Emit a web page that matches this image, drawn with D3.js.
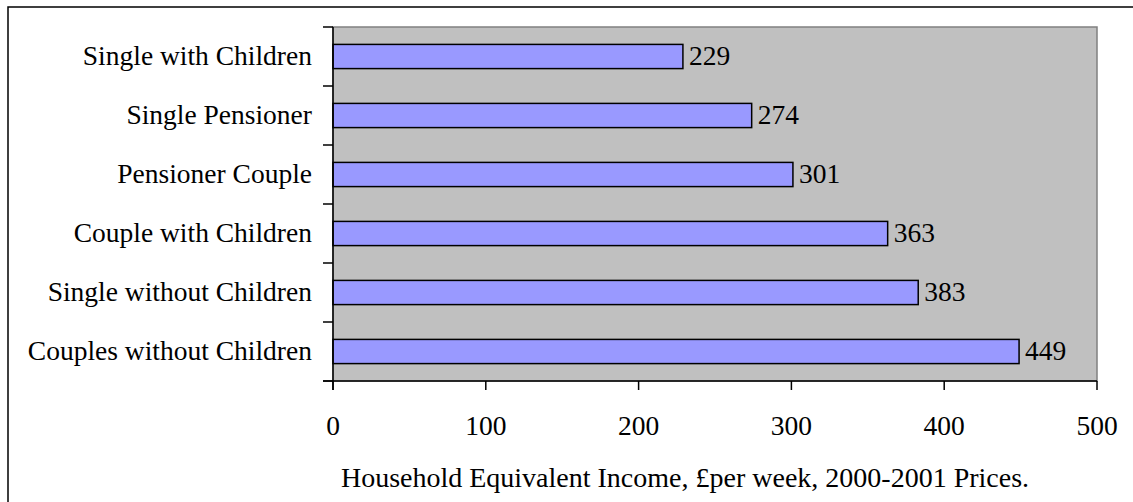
<!DOCTYPE html>
<html>
<head>
<meta charset="utf-8">
<script src="https://cdn.jsdelivr.net/npm/d3@7"></script>
<style>
html,body{margin:0;padding:0;background:#fff;}
svg text{font-family:"Liberation Serif","Times New Roman",serif;fill:#000;}
</style>
</head>
<body>
<svg id="chart" width="1133" height="502"></svg>
<script>
const categories = ["Single with Children","Single Pensioner","Pensioner Couple","Couple with Children","Single without Children","Couples without Children"];
const values = [229, 274, 301, 363, 383, 449];
const xTicks = [0, 100, 200, 300, 400, 500];
const xTitle = "Household Equivalent Income, £per week, 2000-2001 Prices.";

const svg = d3.select("#chart");
const W = 1133, H = 502;
const plot = {left: 333, top: 27, right: 1097, bottom: 381};
const fs = 27.5;

// outer border
svg.append("rect").attr("x", 8).attr("y", 7).attr("width", W + 10).attr("height", H + 10)
  .attr("fill", "#fff").attr("stroke", "#000").attr("stroke-width", 1.5);

const x = d3.scaleLinear().domain([0, 500]).range([plot.left, plot.right]);
const y = d3.scaleBand().domain(categories).range([plot.top, plot.bottom]).paddingInner(0.59).paddingOuter(0.295);

svg.append("rect").attr("x", plot.left).attr("y", plot.top)
  .attr("width", plot.right - plot.left).attr("height", plot.bottom - plot.top)
  .attr("fill", "#C0C0C0").attr("stroke", "#808080").attr("stroke-width", 1.5);

// bars
svg.selectAll("rect.bar").data(values).enter().append("rect").attr("class", "bar")
  .attr("x", x(0)).attr("y", (d, i) => y(categories[i]))
  .attr("width", d => x(d) - x(0)).attr("height", y.bandwidth())
  .attr("fill", "#9999FF").attr("stroke", "#000").attr("stroke-width", 1.5);

// value labels
svg.selectAll("text.val").data(values).enter().append("text").attr("class", "val")
  .attr("x", d => x(d) + 6).attr("y", (d, i) => y(categories[i]) + y.bandwidth() / 2)
  .attr("dy", "0.32em").attr("font-size", fs).text(d => d);

// y axis line and ticks
const band = (plot.bottom - plot.top) / categories.length;
const yTickPos = d3.range(categories.length + 1).map(i => plot.top + i * band);
svg.append("line").attr("x1", plot.left).attr("x2", plot.left).attr("y1", plot.top).attr("y2", plot.bottom + 9)
  .attr("stroke", "#000").attr("stroke-width", 1.5);
svg.selectAll("line.yt").data(yTickPos).enter().append("line").attr("class", "yt")
  .attr("x1", plot.left - 10).attr("x2", plot.left).attr("y1", d => d).attr("y2", d => d)
  .attr("stroke", "#000").attr("stroke-width", 1.5);
svg.selectAll("text.cat").data(categories).enter().append("text").attr("class", "cat")
  .attr("x", 312).attr("y", d => y(d) + y.bandwidth() / 2).attr("dy", "0.32em")
  .attr("text-anchor", "end").attr("font-size", fs).text(d => d);

// x axis
svg.append("line").attr("x1", plot.left - 10).attr("x2", plot.right).attr("y1", plot.bottom).attr("y2", plot.bottom)
  .attr("stroke", "#000").attr("stroke-width", 1.5);
svg.selectAll("line.xt").data(xTicks).enter().append("line").attr("class", "xt")
  .attr("x1", d => x(d)).attr("x2", d => x(d)).attr("y1", plot.bottom).attr("y2", plot.bottom + 9)
  .attr("stroke", "#000").attr("stroke-width", 1.5);
svg.selectAll("text.xl").data(xTicks).enter().append("text").attr("class", "xl")
  .attr("x", d => x(d)).attr("y", 435).attr("text-anchor", "middle")
  .attr("font-size", fs).text(d => d);
svg.append("text").attr("x", 685).attr("y", 487).attr("text-anchor", "middle")
  .attr("font-size", 28).text(xTitle);
</script>
</body>
</html>
